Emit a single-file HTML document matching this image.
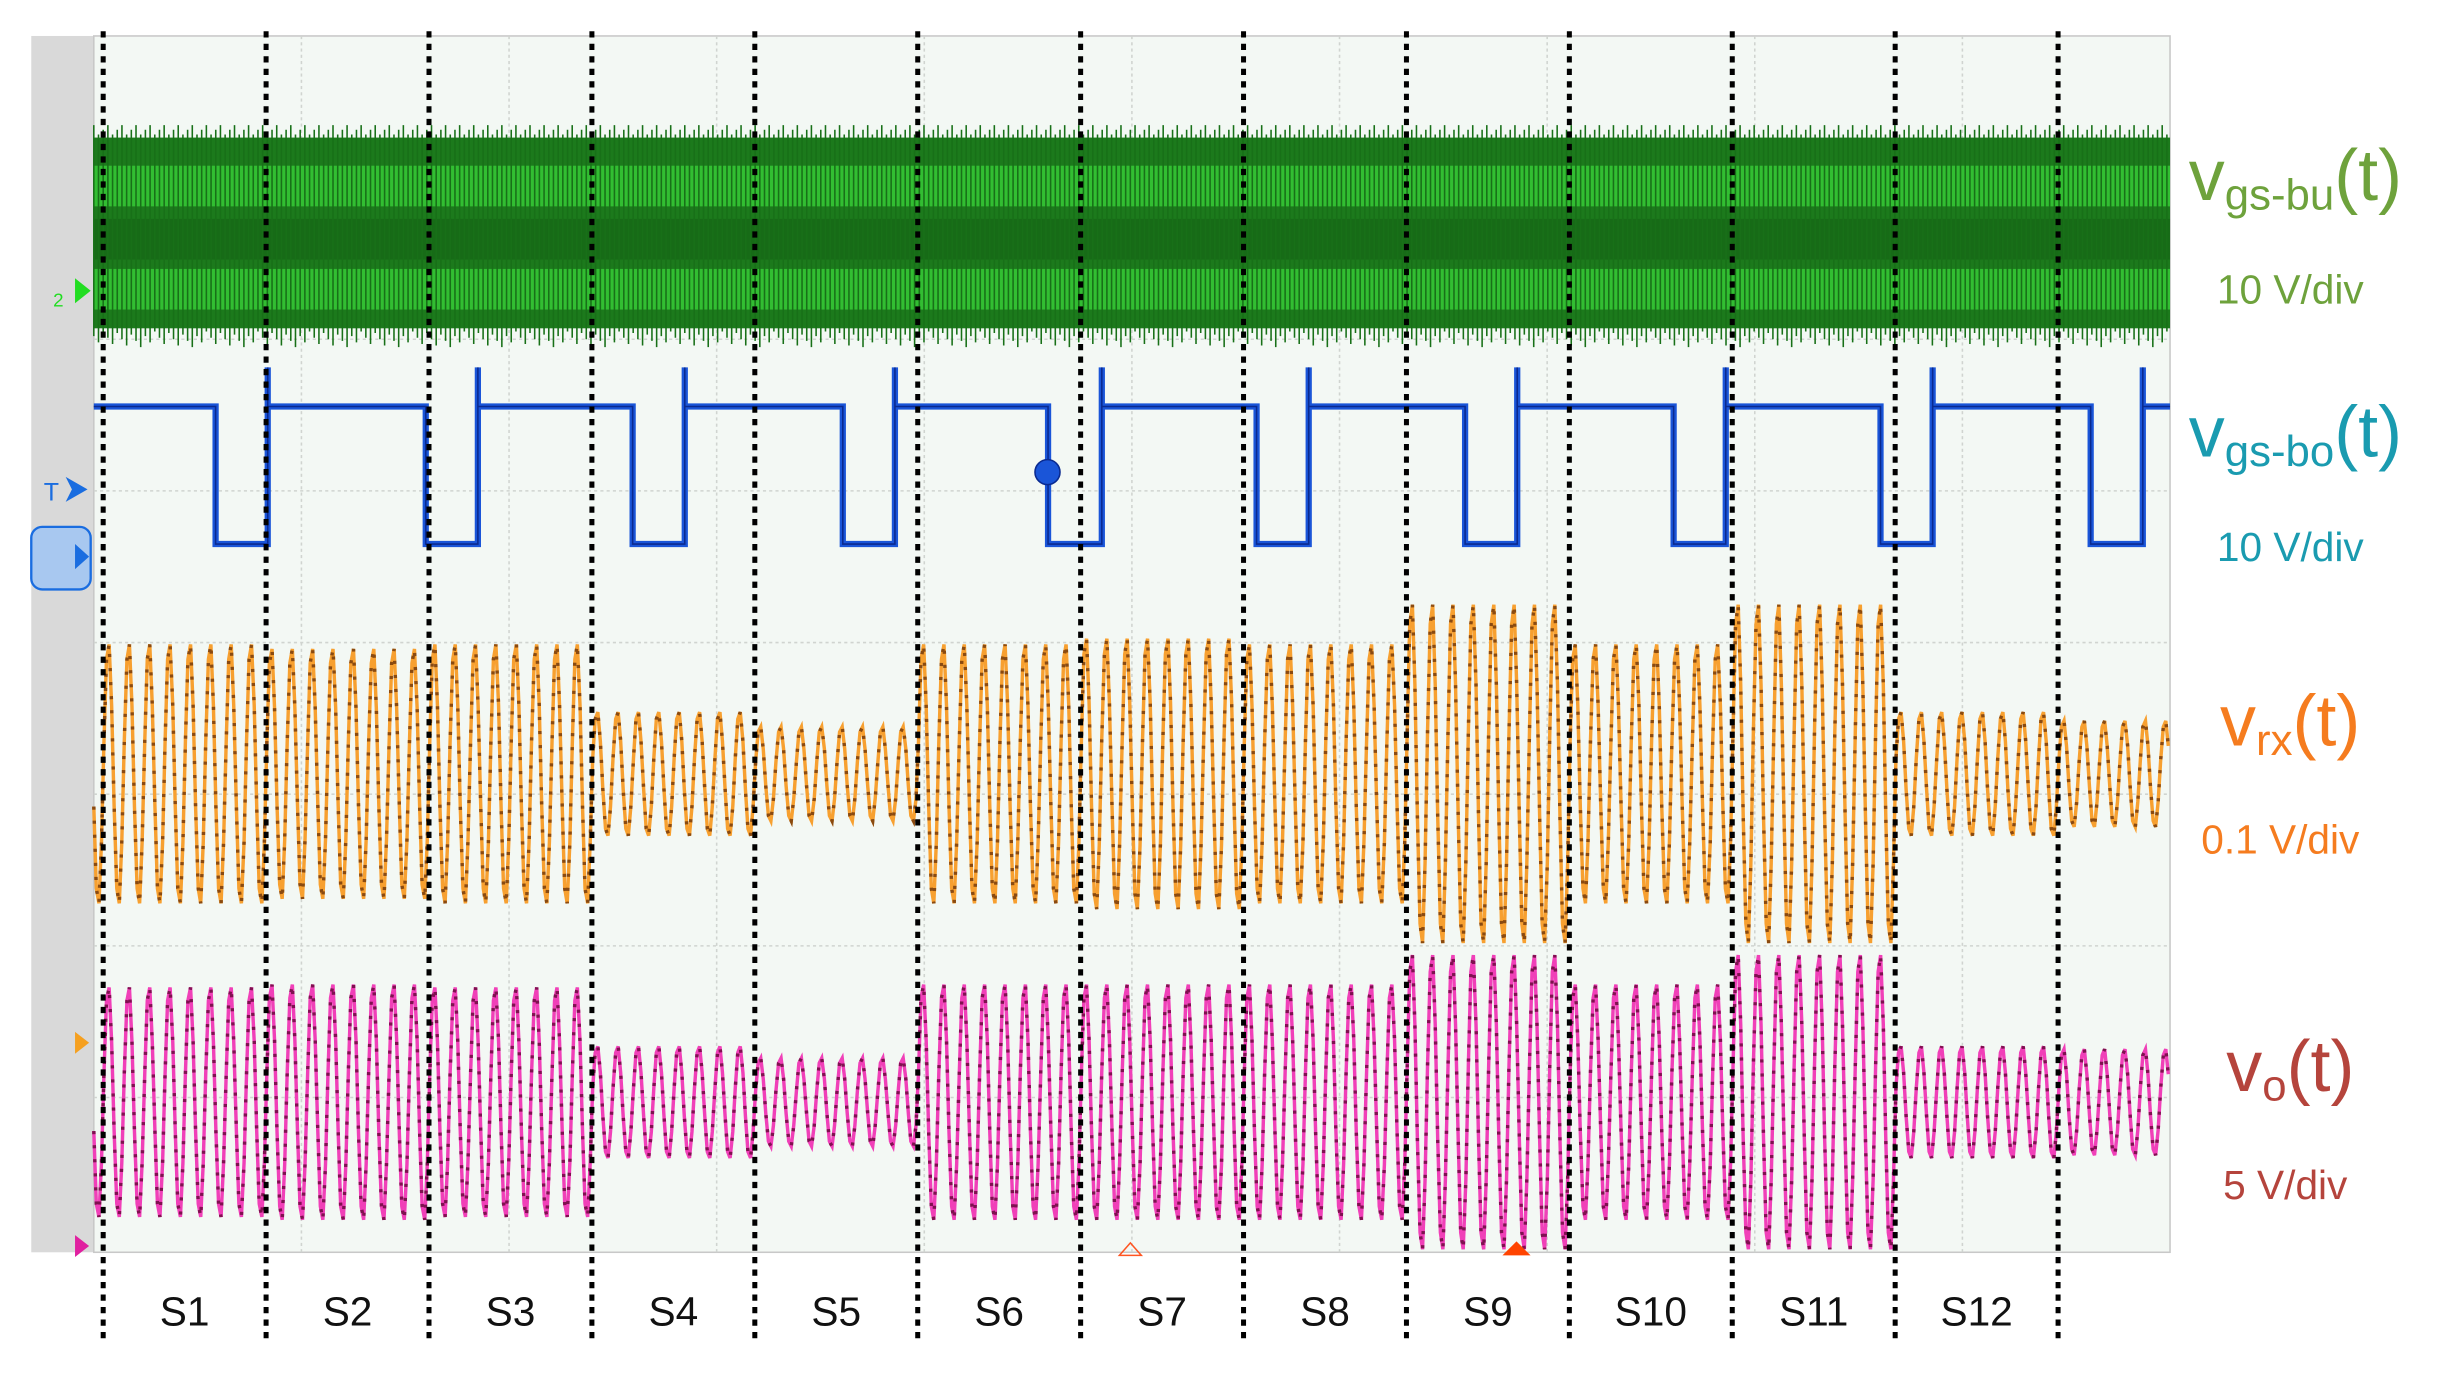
<!DOCTYPE html>
<html><head><meta charset="utf-8"><style>
html,body{margin:0;padding:0;background:#fff;}
svg{display:block;}
</style></head><body>
<svg id="chart" width="2453" height="1375" viewBox="0 0 1569 879.5" preserveAspectRatio="none" xmlns="http://www.w3.org/2000/svg">
<rect x="20" y="23" width="40" height="778" fill="#d9d9d9"/>
<rect x="60" y="23" width="1328" height="778" fill="#f3f8f4" stroke="#c8c8c8"/>
<g id="grid"></g>
<g id="traces"></g>
<g id="dividers"></g>
<g id="seglabels"></g>
<g>
 <path d="M48 178 l10 8 -10 8 z" fill="#22dd22"/>
 <text x="34" y="196" font-family="Liberation Sans, sans-serif" font-size="12" fill="#22dd22">2</text>
 <text x="28" y="320" font-family="Liberation Sans, sans-serif" font-size="16" fill="#1a6de0">T</text>
 <path d="M42 305 l14 8 -14 8 l4 -8 z" fill="#1a6de0"/>
 <rect x="20" y="337" width="38" height="40" rx="7" fill="#a8c8f0" stroke="#1a6de0" stroke-width="1.5"/>
 <path d="M48 348 l9 8 -9 8 z" fill="#1a6de0"/>
 <path d="M48 660 l9 7 -9 7 z" fill="#f5a020"/>
 <path d="M48 790 l9 7 -9 7 z" fill="#e020a0"/>
 <path d="M716 803 l7 -8 7 8 z" fill="none" stroke="#ff5522"/>
 <path d="M961 803 l9 -9 9 9 z" fill="#ff4400"/>
</g>
<g font-family="Liberation Sans, DejaVu Sans, sans-serif">
 <text x="1400" y="128" fill="#6ea23c" font-size="46">v<tspan font-size="28" dy="6">gs-bu</tspan><tspan dy="-6">(t)</tspan></text>
 <text x="1418" y="194" fill="#6ea23c" font-size="26">10 V/div</text>
 <text x="1400" y="292" fill="#1a9bb0" font-size="46">v<tspan font-size="28" dy="6">gs-bo</tspan><tspan dy="-6">(t)</tspan></text>
 <text x="1418" y="359" fill="#1a9bb0" font-size="26">10 V/div</text>
 <text x="1420" y="477" fill="#f57c1f" font-size="46">v<tspan font-size="28" dy="6">rx</tspan><tspan dy="-6">(t)</tspan></text>
 <text x="1408" y="546" fill="#f57c1f" font-size="26">0.1 V/div</text>
 <text x="1424" y="698" fill="#b5443c" font-size="46">v<tspan font-size="28" dy="6">o</tspan><tspan dy="-6">(t)</tspan></text>
 <text x="1422" y="767" fill="#b5443c" font-size="26">5 V/div</text>
</g>
</svg>
<script>
const segmentLabels = ["S1","S2","S3","S4","S5","S6","S7","S8","S9","S10","S11","S12"];
const dividerTimes = [0,1,2,3,4,5,6,7,8,9,10,11,12];
const vrxAmplitude = [0.88,0.85,0.88,0.42,0.32,0.88,0.92,0.88,1.15,0.88,1.15,0.42,0.36];
const voAmplitude = [0.78,0.80,0.78,0.38,0.30,0.80,0.80,0.80,1.00,0.80,1.00,0.38,0.36];
const boLowStart = [0.69,1.98,3.25,4.54,5.80,7.08,8.36,9.64,10.91,12.20];
const boLowWidth = [0.32,0.32,0.32,0.32,0.33,0.32,0.32,0.32,0.32,0.32];
const carrierPeriod = 0.125;

const NS="http://www.w3.org/2000/svg";
const X0=66, SEG=104.2, PX0=60, PX1=1388, DIV=97;
function xs(t){return X0+t*SEG;}
function mk(tag,parent,attrs){const e=document.createElementNS(NS,tag);for(const k in attrs)e.setAttribute(k,attrs[k]);parent.appendChild(e);return e;}
const tEnd=(PX1-X0)/SEG, tStart=(PX0-X0)/SEG;

const grid=document.getElementById('grid');
for(let i=1;i<10;i++){const x=PX0+i*(PX1-PX0)/10;const l=mk('line',grid,{x1:x,x2:x,y1:23,y2:801,stroke:'#d0d4d0','stroke-width':1,'stroke-dasharray':'2 2'});}
for(let i=1;i<8;i++){const y=23+i*DIV;const l=mk('line',grid,{x1:PX0,x2:PX1,y1:y,y2:y,stroke:'#d0d4d0','stroke-width':1,'stroke-dasharray':'2 2'});}

const tr=document.getElementById('traces');
const g=mk('g',tr,{});


mk('rect',g,{x:PX0,y:88,width:PX1-PX0,height:122,fill:'#1c7a1c'});
mk('rect',g,{x:PX0,y:106,width:PX1-PX0,height:26,fill:'#38d038',opacity:0.8});
mk('rect',g,{x:PX0,y:172,width:PX1-PX0,height:26,fill:'#38d038',opacity:0.8});
mk('rect',g,{x:PX0,y:140,width:PX1-PX0,height:26,fill:'#146014',opacity:0.6});
let gd='';for(let x=PX0;x<PX1;x+=3){gd+=`M${x} ${86-((x*7)%9)}V${212+((x*5)%11)}`;}
mk('path',g,{d:gd,stroke:'#187018','stroke-width':1,fill:'none'});

const HI=260, LO=348;
let bd=`M${PX0} ${HI}`;
for(let i=0;i<boLowStart.length;i++){const a=xs(boLowStart[i]),b=xs(boLowStart[i]+boLowWidth[i]);
 if(a>PX1)break;
 bd+=`L${a} ${HI}L${a} ${LO}L${Math.min(b,PX1)} ${LO}`; if(b<PX1) bd+=`L${b} ${HI-25}L${b} ${HI}`;}
bd+=`L${PX1} ${HI}`;
const bl=mk('path',tr,{d:bd,stroke:'#1a55d8','stroke-width':4,fill:'none'});


const bl2=mk('path',tr,{d:bd,stroke:'#0a2a90','stroke-width':1,fill:'none'});


const mc=mk('circle',tr,{cx:670,cy:302,r:8,fill:'#1a55d8',stroke:'#0a2a90'});



function wave(amps,cy,color,dark,name){
 let d='';let first=true;
 for(let t=tStart;t<=tEnd;t+=carrierPeriod/8){
  const s=Math.min(amps.length-1,Math.max(0,Math.floor(t)));
  const y=cy-amps[s]*DIV*Math.sin(2*Math.PI*t/carrierPeriod);
  d+=(first?'M':'L')+xs(t).toFixed(1)+' '+y.toFixed(1);first=false;}
 const p=mk('path',tr,{d:d,stroke:color,'stroke-width':2.2,fill:'none'});
 
 
 const p2=mk('path',tr,{d:d,stroke:dark,'stroke-width':2.2,fill:'none','stroke-dasharray':'2 7'});
 
 
}
wave(vrxAmplitude,495,'#f7a030','#8a4a10','trace-vrx');
wave(voAmplitude,705,'#f040b8','#801050','trace-vo');

const dv=document.getElementById('dividers');
dividerTimes.forEach(t=>{const x=xs(t);const l=mk('line',dv,{x1:x,x2:x,y1:20,y2:856,stroke:'#000','stroke-width':3.2,'stroke-dasharray':'4 4'});
 
 });
const sl=document.getElementById('seglabels');
segmentLabels.forEach((s,i)=>{const tx=mk('text',sl,{x:xs(i+0.5),y:848,'text-anchor':'middle','font-family':'Liberation Sans, sans-serif','font-size':26,fill:'#111'});tx.textContent=s;
 
 });
</script>
</body></html>
